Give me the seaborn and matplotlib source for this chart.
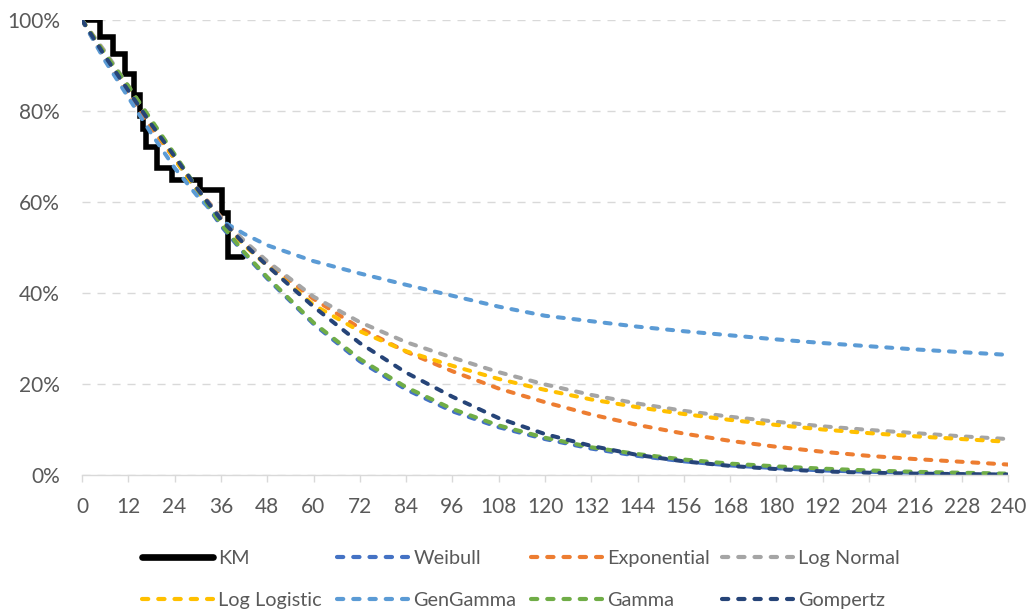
import matplotlib
matplotlib.use("Agg")
import matplotlib.pyplot as plt
from matplotlib.lines import Line2D
from matplotlib.ticker import PercentFormatter
import seaborn as sns

# --- data (survival probability vs months) ---
months = [0, 6, 12, 18, 24, 30, 36, 42, 48, 60, 72, 84, 96, 108, 120,
          132, 144, 156, 168, 180, 192, 204, 216, 228, 240]

weibull = [1.0, 0.92, 0.845, 0.77, 0.695, 0.622, 0.548, 0.487, 0.432, 0.332, 0.25, 0.188,
           0.14, 0.105, 0.079, 0.058, 0.042, 0.030, 0.021, 0.015, 0.010, 0.007,
           0.005, 0.003, 0.002]
exponential = [1.0, 0.913, 0.834, 0.762, 0.695, 0.628, 0.567, 0.513, 0.466, 0.387,
               0.323, 0.271, 0.228, 0.19, 0.16, 0.133, 0.11, 0.091, 0.075, 0.062,
               0.051, 0.042, 0.035, 0.029, 0.023]
log_normal = [1.0, 0.93, 0.855, 0.775, 0.70, 0.628, 0.566, 0.515, 0.47, 0.392, 0.336,
              0.292, 0.258, 0.226, 0.199, 0.176, 0.157, 0.141, 0.128, 0.117, 0.107,
              0.099, 0.092, 0.085, 0.079]
log_logistic = [1.0, 0.925, 0.85, 0.77, 0.695, 0.622, 0.56, 0.505, 0.46, 0.374,
                0.316, 0.272, 0.24, 0.211, 0.187, 0.166, 0.149, 0.134, 0.121, 0.110,
                0.100, 0.092, 0.085, 0.079, 0.073]
gen_gamma = [1.0, 0.91, 0.83, 0.75, 0.675, 0.612, 0.56, 0.53, 0.505, 0.47, 0.443,
             0.418, 0.394, 0.37, 0.35, 0.338, 0.326, 0.316, 0.307, 0.298, 0.29,
             0.283, 0.276, 0.27, 0.264]
gamma = [1.0, 0.925, 0.855, 0.78, 0.705, 0.628, 0.552, 0.49, 0.435, 0.335, 0.255,
         0.193, 0.145, 0.109, 0.082, 0.061, 0.046, 0.034, 0.025, 0.019, 0.014,
         0.010, 0.007, 0.005, 0.003]
gompertz = [1.0, 0.92, 0.845, 0.77, 0.70, 0.628, 0.562, 0.508, 0.46, 0.37, 0.29,
            0.225, 0.172, 0.125, 0.09, 0.064, 0.044, 0.030, 0.020, 0.013, 0.008,
            0.005, 0.003, 0.002, 0.001]

km_months = [0, 4.7, 8.0, 11.2, 13.6, 15.0, 15.8, 16.6, 19.5, 23.4, 30.6, 36.3, 37.9, 41.8]
km_surv = [1.0, 0.962, 0.925, 0.882, 0.835, 0.79, 0.76, 0.72, 0.675, 0.648, 0.626,
           0.576, 0.479, 0.479]

series_names = ["Weibull", "Exponential", "Log Normal", "Log Logistic",
                "GenGamma", "Gamma", "Gompertz"]
series_values = [weibull, exponential, log_normal, log_logistic, gen_gamma, gamma, gompertz]
series_colors = ["#4472C4", "#ED7D31", "#A5A5A5", "#FFC000", "#5B9BD5", "#70AD47", "#264478"]

x_ticks = list(range(0, 241, 12))

# --- style ---
sns.set_theme(style="white")
plt.rcParams["font.family"] = ["Lato", "DejaVu Sans"]
TEXT = "#595959"
GRID = "#D9D9D9"
DASH = (0, (1.5, 2.4))
FS = 15

fig = plt.figure(figsize=(10.3, 6.15), dpi=100)
ax = fig.add_axes([82 / 1030, 1 - 475 / 615, (1008 - 82) / 1030, (475 - 20) / 615])

# KM step curve
sns.lineplot(x=km_months, y=km_surv, color="black", linewidth=4.0,
             drawstyle="steps-post", ax=ax)
ax.lines[-1].set_solid_joinstyle("miter")

# fitted curves, dashed
for name, vals, col in zip(series_names, series_values, series_colors):
    sns.lineplot(x=months, y=vals, color=col, linewidth=2.9, ax=ax)
    ln = ax.lines[-1]
    ln.set_linestyle(DASH)
    ln.set_dash_capstyle("round")

ax.set_xlim(0, 240)
ax.set_ylim(0, 1)
ax.set_xticks(x_ticks)
ax.set_yticks([0, 0.2, 0.4, 0.6, 0.8, 1.0])
ax.yaxis.set_major_formatter(PercentFormatter(1.0, decimals=0))
ax.set_xlabel("")
ax.set_ylabel("")

ax.yaxis.grid(True, color=GRID, linestyle=(0, (5.8, 5.0)), linewidth=1.0)
ax.set_axisbelow(True)
for s in ["left", "top", "right"]:
    ax.spines[s].set_visible(False)
ax.spines["bottom"].set_color(GRID)
ax.spines["bottom"].set_linewidth(1.0)

ax.tick_params(axis="x", bottom=True, length=5, width=1.0, color=GRID,
               direction="out", pad=11, labelsize=FS, labelcolor=TEXT)
ax.tick_params(axis="y", left=False, length=0, pad=16, labelsize=FS, labelcolor=TEXT)

# legend: 4 equal-width columns, 2 rows, under the plot
handles = [Line2D([], [], color="black", linewidth=4.8, solid_capstyle="round")]
for name, col in zip(series_names, series_colors):
    handles.append(Line2D([], [], color=col, linewidth=3.0, linestyle=DASH,
                          dash_capstyle="round"))
labels = ["KM"] + series_names

col_x = [142, 337, 531, 722]
for c in range(4):
    fig.legend(handles=[handles[c], handles[c + 4]], labels=[labels[c], labels[c + 4]],
               loc="upper left", bbox_to_anchor=(col_x[c] / 1030, 1 - 550 / 615),
               frameon=False, fontsize=14.3, handlelength=3.55, handletextpad=0.3,
               labelspacing=1.25, borderpad=0, borderaxespad=0, labelcolor=TEXT)

fig.savefig("out.png", dpi=100)
